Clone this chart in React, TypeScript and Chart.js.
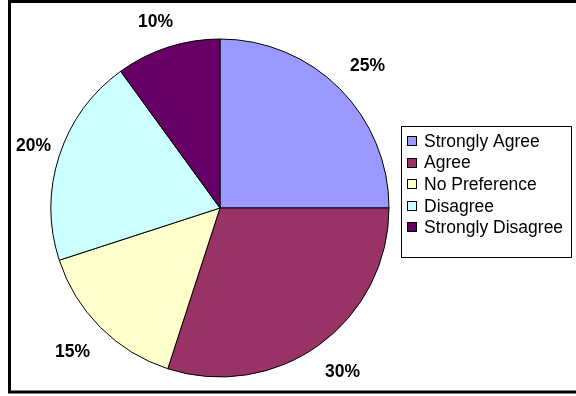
import React, { useEffect, useRef } from "react";
import { Chart, registerables } from "chart.js";

Chart.register(...registerables);

const categories = ["Strongly Agree", "Agree", "No Preference", "Disagree", "Strongly Disagree"];
const values = [25, 30, 15, 20, 10];
const percentLabels = ["25%", "30%", "15%", "20%", "10%"];
const colors = ["#9999FF", "#993366", "#FFFFCC", "#CCFFFF", "#660066"];

const framePlugin = {
  id: "frame",
  beforeDraw(chart: any) {
    const ctx = chart.ctx;
    ctx.save();
    ctx.fillStyle = "#ffffff";
    ctx.fillRect(0, 0, chart.width, chart.height);
    ctx.restore();
  },
  afterDraw(chart: any) {
    const ctx = chart.ctx;
    ctx.save();
    // outer frame (left, top, bottom)
    ctx.strokeStyle = "#000";
    ctx.lineWidth = 3;
    ctx.beginPath();
    ctx.moveTo(576, 1.5);
    ctx.lineTo(9.5, 1.5);
    ctx.lineTo(9.5, 392);
    ctx.lineTo(576, 392);
    ctx.stroke();

    // percentage labels, kept inside the plot region
    const meta = chart.getDatasetMeta(0);
    ctx.font = "bold 17.5px 'Liberation Sans', Arial, sans-serif";
    ctx.fillStyle = "#000";
    ctx.textAlign = "center";
    ctx.textBaseline = "middle";
    const minLeft = 16;
    const minTop = 15;
    meta.data.forEach((arc: any, i: number) => {
      const mid = (arc.startAngle + arc.endAngle) / 2;
      const r = arc.outerRadius + 22;
      const w = ctx.measureText(percentLabels[i]).width;
      const h = 13;
      const hShift = 22;
      let x = arc.x + Math.cos(mid) * r + (Math.cos(mid) * w) / 2;
      let y = arc.y + Math.sin(mid) * r + (Math.sin(mid) * hShift) / 2;
      if (x - w / 2 < minLeft) x = minLeft + w / 2;
      if (y - h / 2 < minTop) y = minTop + h / 2;
      ctx.fillText(percentLabels[i], x, y + 1);
    });

    // legend
    const lx = 401.5, ly = 126.5, lw = 170, lh = 131;
    ctx.fillStyle = "#fff";
    ctx.fillRect(lx, ly, lw, lh);
    ctx.strokeStyle = "#000";
    ctx.lineWidth = 1;
    ctx.strokeRect(lx, ly, lw, lh);
    ctx.font = "17.5px 'Liberation Sans', Arial, sans-serif";
    ctx.textAlign = "left";
    ctx.textBaseline = "middle";
    categories.forEach((c, i) => {
      const cy = 141 + i * 21.6;
      const sy = Math.round(cy - 5);
      ctx.fillStyle = colors[i];
      ctx.fillRect(407, sy, 10, 10);
      ctx.strokeStyle = "#000";
      ctx.strokeRect(407.5, sy + 0.5, 9, 9);
      ctx.fillStyle = "#000";
      ctx.fillText(c, 424, cy + 1);
    });
    ctx.restore();
  },
};

export default function App() {
  const ref = useRef<HTMLCanvasElement>(null);
  useEffect(() => {
    document.body.style.margin = "0";
    const chart = new Chart(ref.current!, {
      type: "pie",
      data: {
        labels: categories,
        datasets: [
          {
            data: values,
            backgroundColor: colors,
            borderColor: "#000",
            borderWidth: 1,
          },
        ],
      },
      options: {
        animation: false,
        responsive: false,
        events: [],
        radius: 169,
        layout: { padding: { left: 51, right: 187, top: 39, bottom: 19 } },
        plugins: {
          legend: { display: false },
          tooltip: { enabled: false },
        },
      } as any,
      plugins: [framePlugin],
    });
    return () => chart.destroy();
  }, []);
  return (
    <div style={{ width: 576, height: 396 }}>
      <canvas ref={ref} width={576} height={396} style={{ display: "block" }} />
    </div>
  );
}
